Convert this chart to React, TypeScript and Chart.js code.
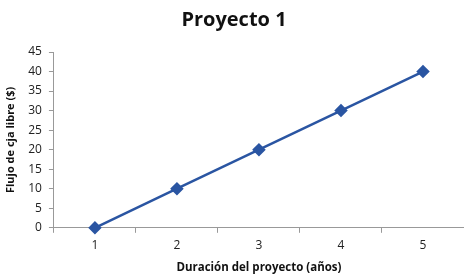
import React, { useEffect, useRef } from "react";
import { Chart, registerables } from "chart.js";

Chart.register(...registerables);

const categories = ["1", "2", "3", "4", "5"];
const values = [0, 10, 20, 30, 40];
const titleText = "Proyecto 1";
const xTitle = "Duración del proyecto (años)";
const yTitle = "Flujo de cja libre ($)";

export default function App() {
  const ref = useRef<HTMLCanvasElement>(null);
  useEffect(() => {
    document.body.style.margin = "0";
    const ctx = ref.current!;
    const font = "'Open Sans', 'DejaVu Sans', sans-serif";
    const chart = new Chart(ctx, {
      type: "line",
      data: {
        labels: categories,
        datasets: [
          {
            data: values,
            borderColor: "#2A55A2",
            backgroundColor: "#2A55A2",
            borderWidth: 2.5,
            pointStyle: "rectRot",
            pointRadius: 5,
            pointHoverRadius: 5,
            tension: 0,
            clip: false,
          },
        ],
      },
      options: {
        animation: false,
        responsive: false,
        maintainAspectRatio: false,
        layout: { autoPadding: false, padding: { left: 4, right: 0, top: 6, bottom: 0 } },
        plugins: {
          legend: { display: false },
          tooltip: { enabled: false },
          title: {
            display: true,
            text: titleText,
            color: "#111",
            font: { family: font, size: 20, weight: "bold" },
            padding: { top: 2, bottom: 20 },
          },
        },
        scales: {
          x: {
            offset: true,
            grid: {
              offset: true,
              drawOnChartArea: false,
              drawTicks: true,
              tickLength: 5,
              color: "#999",
            },
            border: { display: true, color: "#999", width: 1 },
            ticks: { color: "#222", font: { family: font, size: 12 }, padding: 6 },
            title: {
              display: true,
              text: xTitle,
              color: "#111",
              font: { family: font, size: 11.5, weight: "bold" },
              padding: { top: 2, bottom: 0 },
            },
          },
          y: {
            min: 0,
            max: 45,
            ticks: {
              stepSize: 5,
              color: "#222",
              font: { family: font, size: 12 },
              padding: 7,
            },
            grid: {
              drawOnChartArea: false,
              drawTicks: true,
              tickLength: 5,
              color: "#999",
            },
            border: { display: true, color: "#999", width: 1 },
            title: {
              display: true,
              text: yTitle,
              color: "#111",
              font: { family: font, size: 11, weight: "bold" },
              padding: { top: 0, bottom: 4 },
            },
          },
        },
      },
    });
    return () => chart.destroy();
  }, []);
  return (
    <div style={{ width: 464, height: 275, background: "#fff" }}>
      <canvas ref={ref} width={464} height={275} />
    </div>
  );
}
